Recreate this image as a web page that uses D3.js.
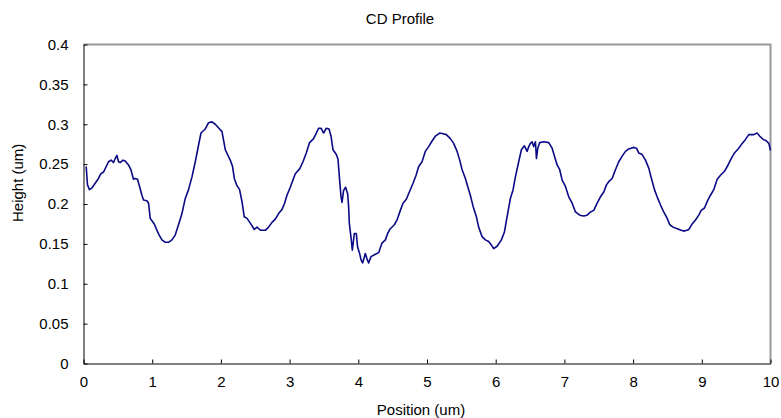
<!DOCTYPE html>
<html>
<head>
<meta charset="utf-8">
<script src="https://cdn.jsdelivr.net/npm/d3@7"></script>
<style>
  html, body { margin: 0; padding: 0; background: #fff; }
  svg { display: block; }
  text { font-family: "Liberation Sans", Arial, sans-serif; fill: #000; }
</style>
</head>
<body>
<svg id="chart" width="781" height="418"></svg>
<script>
// CD profile trace: position (um) and measured height (um)
const positions = [
  0.039,0.058,0.087,0.122,0.170,0.218,0.253,0.291,0.331,0.364,0.403,0.437,0.462,0.486,0.510,0.534,0.574,0.607,0.655,0.690,
  0.728,0.753,0.786,0.816,0.850,0.874,0.923,0.947,0.971,0.996,1.030,1.069,1.102,1.142,1.190,1.238,1.287,1.335,1.383,1.433,
  1.481,1.529,1.579,1.627,1.675,1.710,1.772,1.820,1.870,1.918,1.991,2.015,2.039,2.064,2.136,2.170,2.195,2.234,2.272,2.307,
  2.340,2.380,2.428,2.486,2.525,2.563,2.583,2.646,2.694,2.744,2.792,2.840,2.889,2.927,2.962,3.010,3.049,3.083,3.146,3.195,
  3.243,3.291,3.349,3.389,3.422,3.457,3.495,3.534,3.574,3.603,3.632,3.680,3.705,3.728,3.749,3.763,3.786,3.815,3.845,3.859,
  3.869,3.898,3.913,3.942,3.971,3.990,4.019,4.040,4.063,4.102,4.127,4.150,4.185,4.248,4.296,4.345,4.394,4.427,4.466,4.525,
  4.564,4.612,4.651,4.699,4.743,4.797,4.841,4.879,4.928,4.976,5.024,5.074,5.122,5.184,5.234,5.282,5.340,5.388,5.438,5.476,
  5.511,5.559,5.592,5.631,5.671,5.719,5.752,5.802,5.850,5.898,5.933,5.971,6.020,6.083,6.127,6.166,6.214,6.253,6.287,6.335,
  6.374,6.418,6.457,6.481,6.505,6.530,6.553,6.578,6.593,6.612,6.641,6.699,6.772,6.821,6.859,6.894,6.932,6.967,7.015,7.063,
  7.113,7.161,7.223,7.282,7.331,7.379,7.427,7.477,7.525,7.573,7.612,7.645,7.695,7.743,7.791,7.841,7.889,7.937,8.001,8.049,
  8.082,8.132,8.180,8.228,8.267,8.311,8.350,8.398,8.446,8.496,8.534,8.583,8.642,8.700,8.748,8.811,8.860,8.908,8.956,8.991,
  9.039,9.078,9.126,9.174,9.224,9.272,9.330,9.370,9.428,9.476,9.538,9.588,9.636,9.684,9.757,9.806,9.844,9.894,9.942,9.976,
  10.0
];
const heights = [
  0.247,0.224,0.218,0.220,0.226,0.232,0.238,0.240,0.247,0.253,0.255,0.252,0.257,0.261,0.253,0.252,0.255,0.254,0.249,0.243,
  0.231,0.232,0.231,0.222,0.211,0.205,0.204,0.201,0.182,0.179,0.175,0.167,0.161,0.155,0.152,0.152,0.155,0.161,0.174,0.188,
  0.207,0.218,0.234,0.253,0.274,0.289,0.294,0.302,0.303,0.300,0.293,0.291,0.280,0.268,0.255,0.247,0.232,0.223,0.218,0.203,
  0.184,0.182,0.176,0.168,0.171,0.168,0.167,0.167,0.171,0.177,0.181,0.188,0.193,0.201,0.211,0.221,0.230,0.238,0.244,0.253,
  0.264,0.277,0.282,0.289,0.295,0.295,0.289,0.295,0.294,0.285,0.268,0.262,0.256,0.230,0.209,0.202,0.217,0.221,0.213,0.197,
  0.176,0.155,0.142,0.163,0.163,0.146,0.138,0.130,0.126,0.138,0.131,0.126,0.134,0.137,0.139,0.151,0.155,0.163,0.169,0.174,
  0.180,0.192,0.201,0.206,0.215,0.226,0.236,0.247,0.253,0.266,0.272,0.279,0.285,0.289,0.288,0.287,0.282,0.276,0.266,0.255,
  0.243,0.232,0.222,0.211,0.197,0.184,0.171,0.159,0.155,0.153,0.149,0.144,0.147,0.155,0.165,0.184,0.207,0.218,0.234,0.253,
  0.268,0.273,0.266,0.272,0.276,0.278,0.272,0.278,0.257,0.270,0.277,0.278,0.277,0.270,0.259,0.249,0.243,0.230,0.222,0.209,
  0.201,0.190,0.186,0.185,0.186,0.190,0.192,0.201,0.209,0.215,0.224,0.228,0.232,0.243,0.253,0.260,0.266,0.269,0.271,0.270,
  0.264,0.262,0.255,0.245,0.232,0.218,0.209,0.199,0.190,0.182,0.174,0.171,0.169,0.167,0.166,0.168,0.175,0.180,0.186,0.192,
  0.195,0.203,0.211,0.218,0.231,0.236,0.241,0.247,0.257,0.264,0.270,0.276,0.281,0.287,0.287,0.289,0.285,0.281,0.279,0.276,
  0.267
];
const xTicks = [0,1,2,3,4,5,6,7,8,9,10];
const yTicks = [0,0.05,0.1,0.15,0.2,0.25,0.3,0.35,0.4];

const titleText = "CD Profile";
const xLabel = "Position (um)";
const yLabel = "Height (um)";

const svg = d3.select("#chart");
const plot = { left: 83.5, right: 770.5, top: 44.5, bottom: 363.5 };

const x = d3.scaleLinear().domain([0, 10]).range([plot.left, plot.right]);
const y = d3.scaleLinear().domain([0, 0.4]).range([plot.bottom, plot.top]);

const fmtY = d => (d === 0 ? "0" : String(+d.toFixed(2)));

// frame: grey top and right edges
svg.append("path")
  .attr("d", `M${plot.left},${plot.top}H${plot.right}V${plot.bottom}`)
  .attr("fill", "none")
  .attr("stroke", "#999")
  .attr("stroke-width", 2);

// x axis (ticks point inward)
const xAxis = svg.append("g")
  .attr("transform", `translate(0,${plot.bottom})`)
  .call(d3.axisBottom(x).tickValues(xTicks).tickSizeInner(-4).tickSizeOuter(0).tickPadding(13).tickFormat(d3.format("d")));

// y axis (ticks point inward)
const yAxis = svg.append("g")
  .attr("transform", `translate(${plot.left},0)`)
  .call(d3.axisLeft(y).tickValues(yTicks).tickSizeInner(-4).tickSizeOuter(0).tickPadding(15).tickFormat(fmtY));

[xAxis, yAxis].forEach(g => {
  g.select(".domain").attr("stroke", "#000").attr("stroke-width", 1);
  g.selectAll(".tick line").attr("stroke", "#000");
  g.selectAll(".tick text")
    .attr("font-family", "Liberation Sans, Arial, sans-serif")
    .attr("font-size", 15)
    .attr("fill", "#000");
});

// profile trace
const line = d3.line()
  .x((d, i) => x(positions[i]))
  .y(d => y(d));

svg.append("path")
  .datum(heights)
  .attr("d", line)
  .attr("fill", "none")
  .attr("stroke", "#0a0a86")
  .attr("stroke-width", 1.6)
  .attr("stroke-linejoin", "round");

// titles
svg.append("text")
  .attr("x", 400).attr("y", 24)
  .attr("text-anchor", "middle")
  .attr("font-size", 15)
  .text(titleText);

svg.append("text")
  .attr("x", 421).attr("y", 415)
  .attr("text-anchor", "middle")
  .attr("font-size", 15)
  .text(xLabel);

svg.append("text")
  .attr("transform", "translate(23,222) rotate(-90)")
  .attr("text-anchor", "start")
  .attr("font-size", 15)
  .text(yLabel);

svg.append("text")
  .attr("transform", "translate(23,150) rotate(-90)")
  .attr("text-anchor", "middle")
  .attr("font-size", 15)
  .text(".");
</script>
</body>
</html>
